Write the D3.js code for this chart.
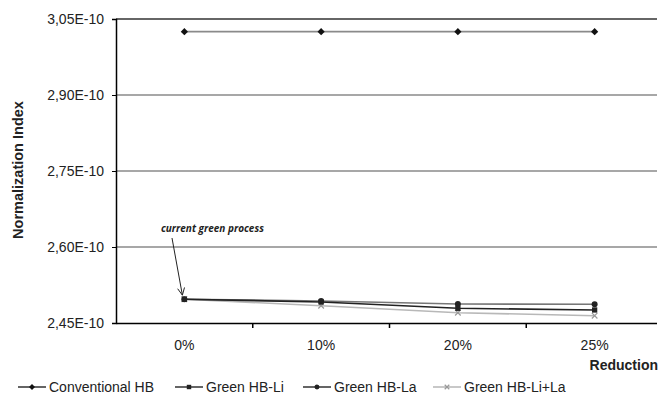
<!DOCTYPE html>
<html><head><meta charset="utf-8">
<script src="https://cdn.jsdelivr.net/npm/d3@7"></script>
<style>body{margin:0;background:#fff;overflow:hidden}svg{display:block}text{font-family:"Liberation Sans",Arial,sans-serif;fill:#222}</style>
</head><body><svg id="c" width="661" height="394"></svg>
<script>
const categories = ["0%", "10%", "20%", "25%"];
const yTicks = [2.45, 2.60, 2.75, 2.90, 3.05];
const yTickLabels = ["2,45E-10", "2,60E-10", "2,75E-10", "2,90E-10", "3,05E-10"];
const conventionalHB = [3.025, 3.025, 3.025, 3.025];
const greenHBLi = [2.497, 2.4914, 2.479, 2.4757];
const greenHBLa = [2.497, 2.4934, 2.4875, 2.4869];
const greenHBLiLa = [2.497, 2.4841, 2.4703, 2.4644];
const seriesNames = ["Conventional HB", "Green HB-Li", "Green HB-La", "Green HB-Li+La"];

const svg = d3.select("#c");
const x = d3.scaleBand().domain(categories).range([116, 663]);
const y = d3.scaleLinear().domain([2.45, 3.05]).range([323, 19]);

// gridlines
svg.append("g").selectAll("line").data(yTicks.slice(1)).join("line")
  .attr("x1", 116).attr("x2", 661).attr("y1", d => y(d)).attr("y2", d => y(d))
  .attr("stroke", (d, i) => i === 3 ? "#333" : "#8a8a8a").attr("stroke-width", 1.5);

// y axis
const ya = svg.append("g").attr("transform", "translate(116,0)")
  .call(d3.axisLeft(y).tickValues(yTicks).tickFormat((d, i) => yTickLabels[i]).tickSizeOuter(0).tickSize(4).tickPadding(8));
ya.select(".domain").attr("stroke", "#000").attr("stroke-width", 1.5);
ya.selectAll(".tick line").attr("stroke", "#000");
ya.selectAll("text").style("font-size", "14px").attr("fill", "#333");

// x axis
const xa = svg.append("g").attr("transform", "translate(0,323)")
  .call(d3.axisBottom(x).tickSize(0).tickSizeOuter(0).tickPadding(17));
xa.select(".domain").attr("stroke", "#000").attr("stroke-width", 1.5);
xa.selectAll("text").style("font-size", "14px").attr("fill", "#333");
xa.selectAll(".bnd").data(categories.slice(1)).join("line").attr("class", "bnd")
  .attr("x1", d => x(d)).attr("x2", d => x(d)).attr("y1", 0).attr("y2", 5)
  .attr("stroke", "#000").attr("stroke-width", 1.5);

const cx = d => x(d) + x.bandwidth() / 2;
const seriesData = [conventionalHB, greenHBLi, greenHBLa, greenHBLiLa];
const lineColors = ["#8a8a8a", "#222", "#777", "#b8b8b8"];
const markColors = ["#111", "#222", "#222", "#999"];
const line = d3.line().x((d, i) => cx(categories[i])).y(d => y(d));

function marker(g, k, px, py, s) {
  if (k === 0) g.append("path").attr("d", d3.symbol(d3.symbolSquare, 26 * s)()).attr("transform", `translate(${px},${py}) rotate(45)`).attr("fill", markColors[k]);
  else if (k === 1) g.append("path").attr("d", d3.symbol(d3.symbolSquare, 28 * s)()).attr("transform", `translate(${px},${py})`).attr("fill", markColors[k]);
  else if (k === 2) g.append("path").attr("d", d3.symbol(d3.symbolCircle, 28 * s)()).attr("transform", `translate(${px},${py})`).attr("fill", markColors[k]);
  else g.append("path").attr("d", d3.symbol(d3.symbolX, 22 * s)()).attr("transform", `translate(${px},${py})`).attr("stroke", markColors[k]).attr("stroke-width", 1.2).attr("fill", "none");
}

[3, 2, 1, 0].forEach(k => {
  const g = svg.append("g");
  g.append("path").datum(seriesData[k]).attr("d", line).attr("fill", "none")
    .attr("stroke", lineColors[k]).attr("stroke-width", 1.6);
  seriesData[k].forEach((v, i) => marker(g, k, cx(categories[i]), y(v), 1));
});

// annotation
svg.append("text").attr("x", 161).attr("y", 232).text("current green process")
  .style("font-size", "10px").style("font-style", "italic").style("font-weight", "bold")
  .style("font-family", "'Open Sans',sans-serif");
const ax1 = 172, ay1 = 238, ax2 = cx("0%") - 2, ay2 = y(greenHBLi[0]) - 4;
svg.append("line").attr("x1", ax1).attr("y1", ay1).attr("x2", ax2).attr("y2", ay2).attr("stroke", "#222").attr("stroke-width", 1);
const ang = Math.atan2(ay2 - ay1, ax2 - ax1);
[0.45, -0.45].forEach(a => {
  svg.append("line").attr("x1", ax2).attr("y1", ay2)
    .attr("x2", ax2 - 8 * Math.cos(ang + a)).attr("y2", ay2 - 8 * Math.sin(ang + a))
    .attr("stroke", "#222").attr("stroke-width", 1);
});

// axis titles
svg.append("text").attr("transform", "translate(23,170) rotate(-90)").attr("text-anchor", "middle")
  .style("font-size", "14.5px").style("font-weight", "bold").text("Normalization Index");
svg.append("text").attr("x", 658).attr("y", 370).attr("text-anchor", "end")
  .style("font-size", "14px").style("font-weight", "bold").text("Reduction");

// legend
const legX = [18, 175, 303, 433];
const lcol = ["#111", "#111", "#111", "#aaa"];
seriesNames.forEach((n, k) => {
  const g = svg.append("g");
  g.append("line").attr("x1", legX[k]).attr("x2", legX[k] + 28).attr("y1", 387).attr("y2", 387).attr("stroke", lcol[k]).attr("stroke-width", 1.3);
  marker(g, k, legX[k] + 14, 387, 0.7);
  g.append("text").attr("x", legX[k] + 31).attr("y", 392).style("font-size", "14px").text(n);
});
// clean right edge
svg.append("rect").attr("x", 657).attr("y", 0).attr("width", 4).attr("height", 330).attr("fill", "#fff");
</script></body></html>
